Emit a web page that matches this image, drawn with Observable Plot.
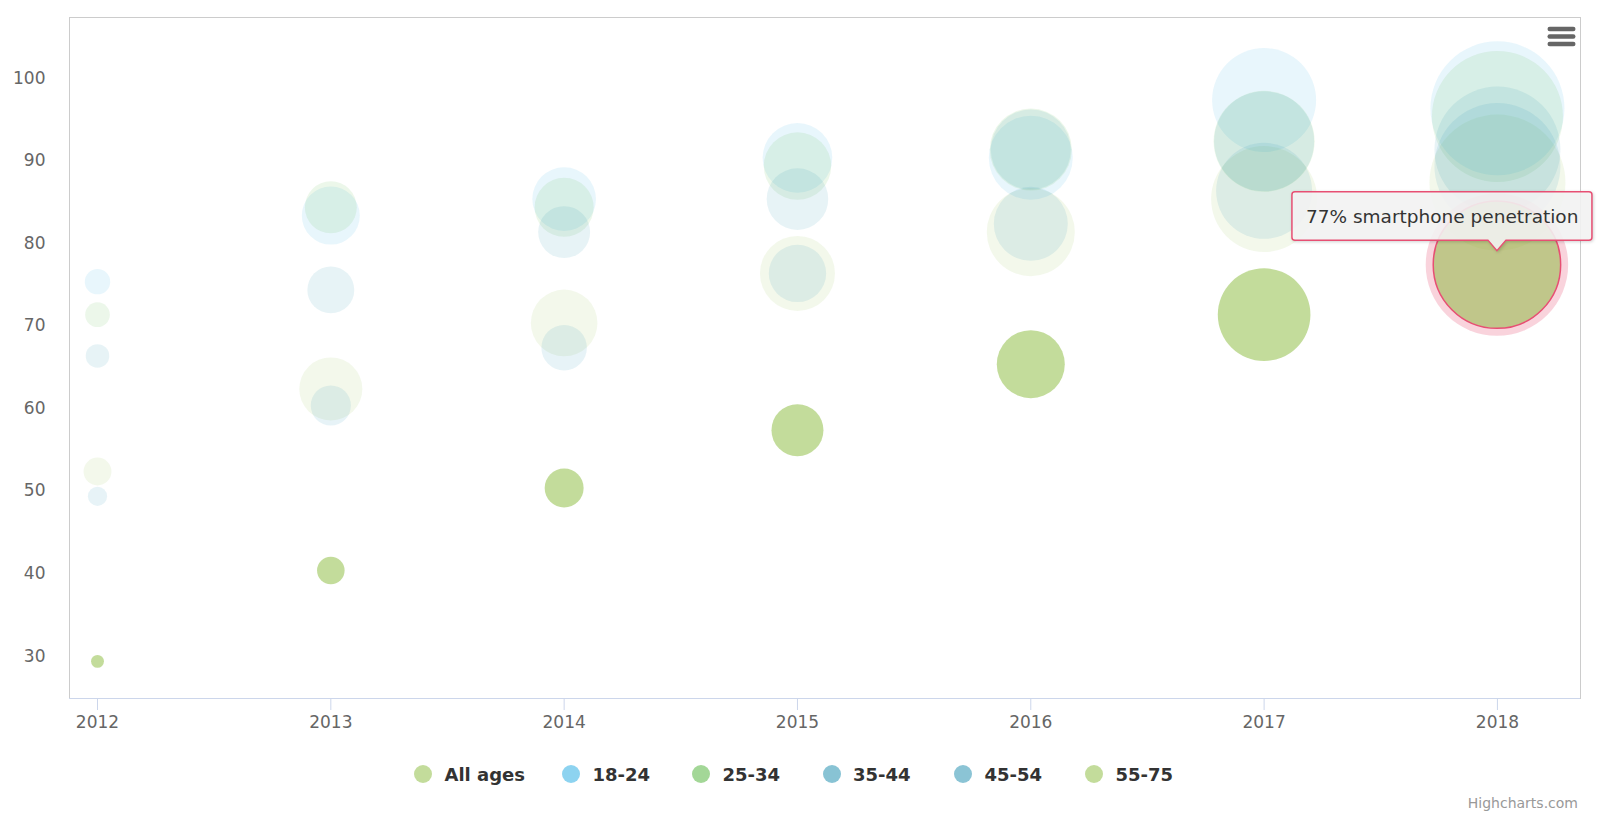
<!DOCTYPE html>
<html>
<head>
<meta charset="utf-8">
<script src="https://cdn.jsdelivr.net/npm/d3@7"></script>
<script src="https://cdn.jsdelivr.net/npm/@observablehq/plot@0.6"></script>
<style>
  body { margin: 0; background: #fff; font-family: "DejaVu Sans", Verdana, sans-serif; }
  #wrap { position: relative; width: 1600px; height: 824px; overflow: hidden; background: #fff; }
  #wrap > svg { display: block; }
  .legend { position: absolute; left: 414px; top: 764px; display: flex; align-items: center; height: 20px; }
  .legend .item { display: flex; align-items: center; }
  .legend .sym { width: 18px; height: 18px; border-radius: 50%; margin-right: 12.5px; flex: none; }
  .legend .lab { font: bold 18px "DejaVu Sans", sans-serif; color: #333; white-space: nowrap; }
  .credit { position: absolute; right: 22px; top: 795px; font: 14px "DejaVu Sans", sans-serif; color: #999; }
  .menu { position: absolute; left: 1546px; top: 25px; }
</style>
</head>
<body>
<div id="wrap"></div>
<script>
// ---- data ----
const years = [2012, 2013, 2014, 2015, 2016, 2017, 2018];
const seriesNames = ["All ages", "18-24", "25-34", "35-44", "45-54", "55-75"];
const allAges  = [52, 62, 70, 76, 81, 85, 87];
const age18_24 = [75, 83, 85, 90, 90, 97, 96];
const age25_34 = [71, 84, 84, 89, 91, 92, 95];
const age35_44 = [66, 74, 81, 85, 91, 92, 91];
const age45_54 = [49, 60, 67, 76, 82, 86, 89];
const age55_75 = [29, 40, 50, 57, 65, 71, 77];
// bubble size (z)
const zAllAges  = [4.2, 21.5, 24.0, 30.4, 41.9, 60.7, 100];
const z18_24    = [3.5, 18.2, 21.9, 26.2, 38.1, 58.5, 97.1];
const z25_34    = [3.3, 14.6, 18.8, 24.6, 36.4, 55.2, 92.8];
const z35_44    = [3.0, 11.9, 14.6, 20.5, 34.6, 54.1, 85.8];
const z45_54    = [2.0, 8.7, 11.2, 17.8, 29.6, 49.8, 85.8];
const z55_75    = [0.9, 4.1, 8.2, 14.6, 25.0, 46.4, 87.8];
const yTicks = [30, 40, 50, 60, 70, 80, 90, 100];
const activeSeries = "55-75";
const hoverYear = 2018;
const tooltipLabel = "% smartphone penetration";

// ---- styling ----
const seriesColors = ["#87b937", "#1ba7e1", "#47af2f", "#1187a9", "#178aac", "#87b937"];
const hoverColor = "#e74f73";

const valueSets = [allAges, age18_24, age25_34, age35_44, age45_54, age55_75];
const zSets = [zAllAges, z18_24, z25_34, z35_44, z45_54, z55_75];
const rows = [];
seriesNames.forEach((s, i) => {
  years.forEach((yr, j) => rows.push({series: s, year: yr, value: valueSets[i][j], z: zSets[i][j]}));
});
const faded = rows.filter(d => d.series !== activeSeries);
const active = rows.filter(d => d.series === activeSeries && d.year !== hoverYear);
const hovered = rows.find(d => d.series === activeSeries && d.year === hoverYear);
const activeColor = seriesColors[seriesNames.indexOf(activeSeries)];

const yDomain = [24.5, 107];

function hoverMark(index, scales) {
  const px = scales.x(hovered.year), py = scales.y(hovered.value), r = scales.r(hovered.z);
  const g = d3.create("svg:g");
  g.append("circle").attr("cx", px).attr("cy", py).attr("r", r + 7.5)
    .attr("fill", hoverColor).attr("fill-opacity", 0.25);
  g.append("circle").attr("cx", px).attr("cy", py).attr("r", r)
    .attr("fill", activeColor).attr("fill-opacity", 0.5)
    .attr("stroke", hoverColor).attr("stroke-width", 1.5);
  // tooltip callout
  const L = px - 205, R = px + 95, T = py - 73, B = py - 24.5, tipY = py - 14, hw = 9, rad = 3;
  const path = `M${L + rad},${T} H${R - rad} Q${R},${T} ${R},${T + rad} V${B - rad} Q${R},${B} ${R - rad},${B}` +
    ` H${px + hw} L${px},${tipY} L${px - hw},${B} H${L + rad} Q${L},${B} ${L},${B - rad} V${T + rad} Q${L},${T} ${L + rad},${T} Z`;
  g.append("path").attr("d", path)
    .attr("fill", "rgba(247,247,247,0.88)")
    .attr("stroke", hoverColor).attr("stroke-width", 1.5)
    .style("filter", "drop-shadow(1px 1px 1.5px rgba(0,0,0,0.18))");
  g.append("text").attr("x", L + 14).attr("y", B - 17)
    .attr("text-anchor", "start")
    .attr("fill", "#333").attr("font-size", "18.5px").attr("font-family", "DejaVu Sans, sans-serif")
    .text(hovered.value + tooltipLabel);
  return g.node();
}

const chart = Plot.plot({
  width: 1600,
  height: 745,
  marginTop: 17,
  marginLeft: 69,
  marginRight: 20,
  marginBottom: 47,
  style: {fontFamily: "DejaVu Sans, sans-serif", fontSize: "17px", color: "#666", background: "#fff", overflow: "visible"},
  x: {domain: [2011.88, 2018.356], label: null},
  y: {domain: yDomain, label: null},
  r: {type: "sqrt", domain: [0, 100], range: [0, 68]},
  color: {domain: seriesNames, range: seriesColors},
  marks: [
    Plot.frame({stroke: "#cccccc"}),
    Plot.dot(faded, {x: "year", y: "value", r: "z", fill: "series", fillOpacity: 0.1, sort: null}),
    Plot.dot(active, {x: "year", y: "value", r: "z", fill: "series", fillOpacity: 0.5, sort: null}),
    hoverMark,
    Plot.ruleY([yDomain[0]], {stroke: "#ccd6eb"}),
    Plot.axisX({ticks: years, tickFormat: d => String(d), tickSize: 12, tickPadding: 5, stroke: "#ccd6eb", fill: "#666", label: null}),
    Plot.axisY({ticks: yTicks, tickSize: 0, tickPadding: 24, dy: 3, fill: "#666", label: null})
  ]
});

const wrap = document.getElementById("wrap");
wrap.appendChild(chart);

// legend
const itemWidths = [148, 130, 130.5, 131.5, 131, null];
const legend = document.createElement("div");
legend.className = "legend";
seriesNames.forEach((s, i) => {
  const item = document.createElement("div");
  item.className = "item";
  if (itemWidths[i]) item.style.width = itemWidths[i] + "px";
  const sym = document.createElement("span");
  sym.className = "sym";
  sym.style.background = seriesColors[i];
  sym.style.opacity = 0.5;
  const lab = document.createElement("span");
  lab.className = "lab";
  lab.textContent = s;
  item.appendChild(sym);
  item.appendChild(lab);
  legend.appendChild(item);
});
wrap.appendChild(legend);

// credit
const credit = document.createElement("div");
credit.className = "credit";
credit.textContent = "Highcharts.com";
wrap.appendChild(credit);

// context menu icon
const menu = d3.create("svg").attr("class", "menu").attr("width", 32).attr("height", 26);
[4, 11.5, 19].forEach(y => menu.append("rect").attr("x", 1.5).attr("y", y - 2.2).attr("width", 28).attr("height", 4.4).attr("rx", 2.2).attr("fill", "#666"));
wrap.appendChild(menu.node());
</script>
</body>
</html>
